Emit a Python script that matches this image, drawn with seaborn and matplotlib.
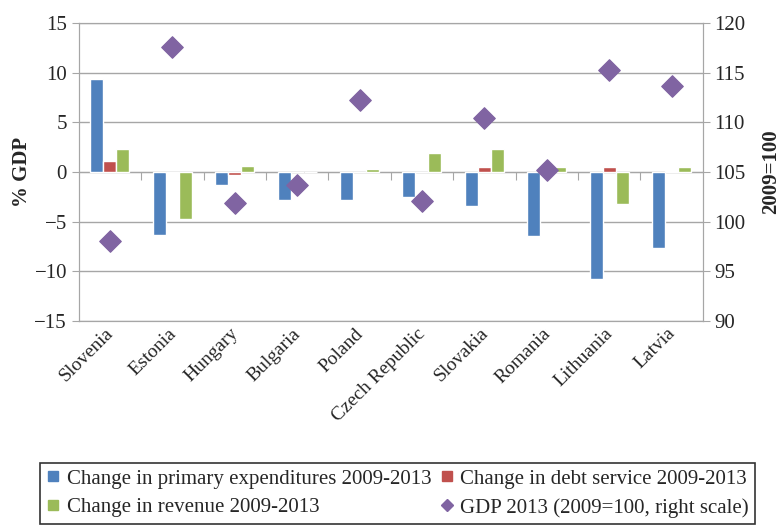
import numpy as np
import pandas as pd
import matplotlib
matplotlib.use("Agg")
import matplotlib.pyplot as plt
import matplotlib.transforms as mtransforms
from matplotlib.lines import Line2D
import seaborn as sns

countries = ["Slovenia", "Estonia", "Hungary", "Bulgaria", "Poland",
             "Czech Republic", "Slovakia", "Romania", "Lithuania", "Latvia"]
primary_exp = [9.4, -6.3, -1.3, -2.8, -2.8, -2.5, -3.4, -6.4, -10.8, -7.7]
debt_service = [1.1, -0.15, -0.3, 0.0, 0.0, 0.0, 0.5, 0.0, 0.5, 0.15]
revenue = [2.3, -4.7, 0.6, 0.0, 0.3, 1.9, 2.3, 0.5, -3.2, 0.5]
gdp_2013 = [98.0, 117.6, 101.9, 103.7, 112.3, 102.1, 110.4, 105.2, 115.3, 113.7]

series_names = ["Change in primary expenditures 2009-2013",
                "Change in debt service 2009-2013",
                "Change in revenue 2009-2013"]
gdp_name = "GDP 2013 (2009=100, right scale)"
colors = ["#4F81BD", "#C0504D", "#9BBB59"]
purple = "#8064A2"
grey = "#A6A6A6"

df = pd.DataFrame({
    "country": countries * 3,
    "value": primary_exp + debt_service + revenue,
    "series": [s for s in series_names for _ in countries],
})

sns.set_style("white")
plt.rcParams["font.family"] = ["Liberation Serif", "DejaVu Serif"]
plt.rcParams["axes.unicode_minus"] = True

fig, ax = plt.subplots(figsize=(7.8, 5.26), dpi=100)
fig.subplots_adjust(left=0.101, right=0.901, top=0.956, bottom=0.390)

sns.barplot(data=df, x="country", y="value", hue="series", order=countries,
            hue_order=series_names, palette=colors, width=0.625, gap=0,
            saturation=1, ax=ax, legend=False)
ax.set_ylim(-15, 15)
ax.set_yticks(np.arange(-15, 16, 5))
ax.set_xlim(-0.5, len(countries) - 0.5)
ax.grid(axis="y", color=grey, linewidth=1)
ax.set_axisbelow(True)
for sp in ax.spines.values():
    sp.set_color(grey)
ax.tick_params(axis="y", direction="out", length=5, color=grey,
               labelsize=15, left=True)
ax.tick_params(axis="x", length=0, labelsize=14, pad=3)
shift = mtransforms.ScaledTranslation(-5 / 100, 0, fig.dpi_scale_trans)
for lab in ax.get_xticklabels():
    lab.set_rotation(45)
    lab.set_ha("right")
    lab.set_rotation_mode("anchor")
    lab.set_transform(lab.get_transform() + shift)
ax.set_xlabel("")
ax.set_ylabel("% GDP", fontsize=15, fontweight="bold", labelpad=2)

# category tick marks hanging below the zero line
zero_axis = ax.secondary_xaxis(0.5)
zero_axis.set_xticks(np.arange(0.5, len(countries) - 1, 1))
zero_axis.set_xticklabels([])
zero_axis.tick_params(direction="in", length=6, color=grey)
for sp in zero_axis.spines.values():
    sp.set_color(grey)

ax2 = ax.twinx()
sns.scatterplot(x=countries, y=gdp_2013, marker="D", color=purple, s=120,
                edgecolor=purple, ax=ax2, zorder=5)
ax2.set_ylim(90, 120)
ax2.set_yticks(np.arange(90, 121, 5))
ax2.tick_params(axis="y", direction="out", length=5, color=grey,
                labelsize=15, right=True)
for sp in ax2.spines.values():
    sp.set_color(grey)
ax2.set_ylabel("2009=100", fontsize=15, fontweight="bold", labelpad=11)

handles = [
    Line2D([], [], marker="s", linestyle="", color=colors[0], markersize=7),
    Line2D([], [], marker="s", linestyle="", color=colors[2], markersize=7),
    Line2D([], [], marker="s", linestyle="", color=colors[1], markersize=7),
    Line2D([], [], marker="D", linestyle="", color=purple, markersize=6),
]
labels = [series_names[0], series_names[2], series_names[1], gdp_name]
leg = fig.legend(handles, labels, ncol=2, loc="lower left",
                 bbox_to_anchor=(0.051, 0.004, 0.917, 0.127), mode="expand",
                 fontsize=15, frameon=True, fancybox=False, handlelength=0.7,
                 handletextpad=0.3, borderaxespad=0, labelspacing=0.45,
                 columnspacing=1.0, borderpad=0.3)
leg.get_frame().set_edgecolor("black")
leg.get_frame().set_linewidth(1.2)

fig.savefig("out.png", dpi=100)
